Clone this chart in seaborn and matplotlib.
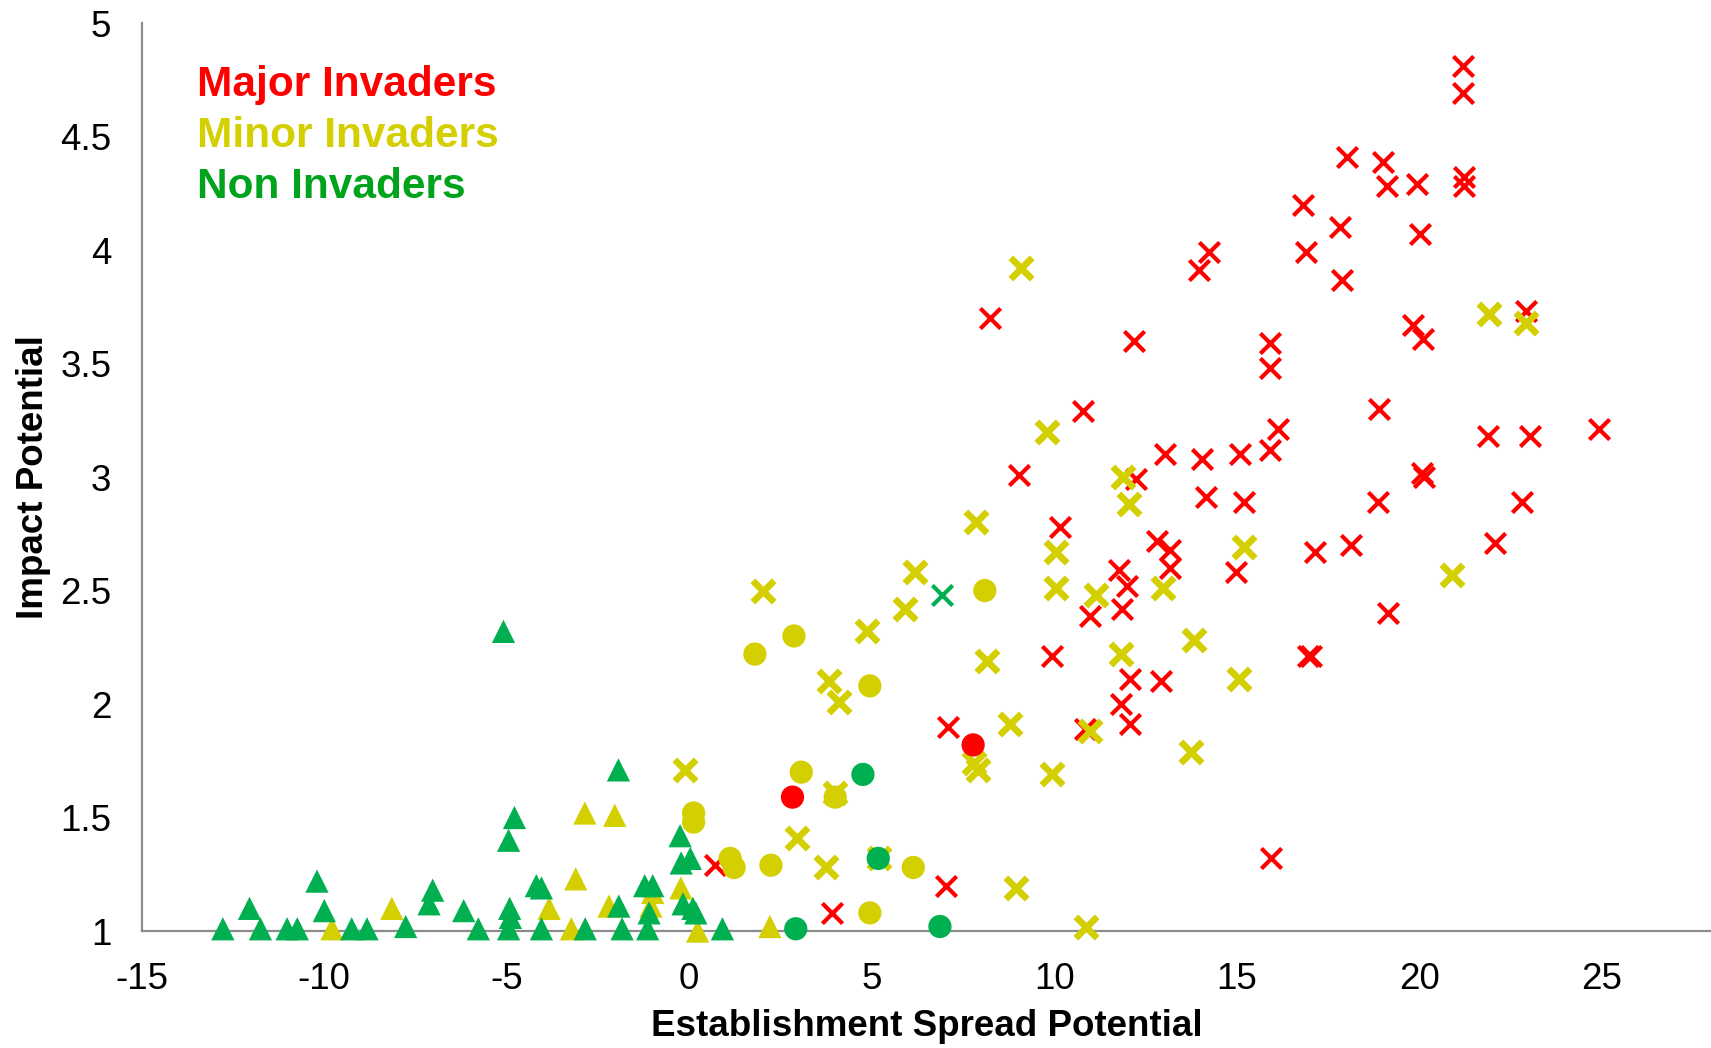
import numpy as np
import pandas as pd
import matplotlib
matplotlib.use("Agg")
import matplotlib.pyplot as plt
import seaborn as sns
from matplotlib.ticker import FuncFormatter

# ---- data: establishment/spread potential (x) vs impact potential (y) ----
major_cross_x = [21.20, 21.20, 18.02, 19.02, 19.12, 19.94, 21.22, 21.22, 16.83, 17.84,
                 16.91, 20.02, 14.24, 13.98, 17.90, 12.18, 19.84, 20.11, 22.94, 15.92,
                 15.92, 18.91, 16.14, 8.23, 10.79, 15.91, 21.89, 23.03, 24.93, 9.04,
                 12.25, 13.04, 14.04, 15.09, 14.16, 15.19, 18.87, 20.09, 20.14, 22.81,
                 22.08, 18.13, 17.15, 10.15, 12.83, 13.18, 13.18, 14.97, 11.78, 12.00,
                 10.97, 11.87, 19.16, 9.94, 16.95, 17.05, 12.09, 12.93, 11.84, 12.09,
                 10.84, 7.10, 15.93, 7.04, 3.90, 0.70]
major_cross_y = [4.81, 4.69, 4.41, 4.39, 4.28, 4.29, 4.32, 4.28, 4.20, 4.10,
                 3.99, 4.07, 3.99, 3.91, 3.87, 3.60, 3.67, 3.61, 3.73, 3.59,
                 3.48, 3.30, 3.21, 3.70, 3.29, 3.12, 3.18, 3.18, 3.21, 3.01,
                 2.99, 3.10, 3.08, 3.10, 2.91, 2.89, 2.89, 3.02, 3.00, 2.89,
                 2.71, 2.70, 2.67, 2.78, 2.72, 2.68, 2.60, 2.58, 2.59, 2.52,
                 2.39, 2.42, 2.40, 2.21, 2.21, 2.21, 2.11, 2.10, 2.00, 1.91,
                 1.89, 1.90, 1.32, 1.20, 1.08, 1.29]

minor_cross_x = [9.09, 21.91, 22.94, 9.80, 11.90, 12.05, 7.86, 10.04, 15.21, 20.90,
                 6.18, 10.06, 11.16, 12.99, 2.01, 5.90, 4.88, 13.82, 11.84, 8.17,
                 3.83, 4.11, 15.06, 8.80, 7.80, 7.90, 9.94, 10.97, 13.76, -0.11,
                 4.00, 2.95, 3.76, 5.20, 8.96, 10.86]
minor_cross_y = [3.92, 3.72, 3.68, 3.20, 3.00, 2.88, 2.80, 2.67, 2.69, 2.57,
                 2.58, 2.51, 2.48, 2.51, 2.50, 2.42, 2.32, 2.28, 2.22, 2.19,
                 2.10, 2.01, 2.11, 1.91, 1.74, 1.71, 1.69, 1.88, 1.79, 1.71,
                 1.61, 1.41, 1.28, 1.32, 1.19, 1.02]

non_cross_x = [6.94]
non_cross_y = [2.48]

minor_tri_x = [-9.79, -8.15, -3.84, -3.11, -2.86, -2.04, -3.23, -2.20, -1.05, -1.00,
               -0.23, 0.23, 2.21]
minor_tri_y = [1.01, 1.10, 1.10, 1.23, 1.52, 1.51, 1.01, 1.11, 1.11, 1.17,
               1.19, 1.00, 1.02]

non_tri_x = [-12.78, -12.05, -11.75, -11.02, -10.74, -10.20, -10.00, -9.25, -8.83, -7.77,
             -7.13, -7.03, -6.18, -5.78, -5.09, -4.79, -4.95, -4.92, -4.90, -4.95,
             -4.19, -4.05, -4.05, -2.85, -1.94, -1.93, -1.84, -1.22, -1.00, -1.10,
             -1.14, -0.25, -0.22, 0.03, -0.17, 0.10, 0.18, 0.91]
non_tri_y = [1.01, 1.10, 1.01, 1.01, 1.01, 1.22, 1.09, 1.01, 1.01, 1.02,
             1.12, 1.18, 1.09, 1.01, 2.32, 1.50, 1.40, 1.10, 1.06, 1.01,
             1.20, 1.19, 1.01, 1.01, 1.71, 1.11, 1.01, 1.20, 1.20, 1.08,
             1.01, 1.42, 1.30, 1.32, 1.12, 1.10, 1.08, 1.01]

minor_circ_x = [1.80, 2.87, 4.95, 8.10, 3.07, 4.00, 0.12, 0.12, 1.12, 1.23, 2.24, 6.14, 4.95]
minor_circ_y = [2.22, 2.30, 2.08, 2.50, 1.70, 1.59, 1.52, 1.48, 1.32, 1.28, 1.29, 1.28, 1.08]

major_circ_x = [2.83, 7.78]
major_circ_y = [1.59, 1.82]

non_circ_x = [4.76, 5.18, 2.92, 6.87]
non_circ_y = [1.69, 1.32, 1.01, 1.02]

status_labels = ["Major Invaders", "Minor Invaders", "Non Invaders"]
status_colors = {"Major Invaders": "#FF0000", "Minor Invaders": "#D4CF00", "Non Invaders": "#00B050"}
label_colors = {"Major Invaders": "#FF0000", "Minor Invaders": "#D4CF00", "Non Invaders": "#00A31C"}

x_ticks = [-15, -10, -5, 0, 5, 10, 15, 20, 25]
y_ticks = [1, 1.5, 2, 2.5, 3, 3.5, 4, 4.5, 5]

# ---- assemble a tidy table ----
groups = [
    ("Major Invaders", "x", major_cross_x, major_cross_y),
    ("Minor Invaders", "x", minor_cross_x, minor_cross_y),
    ("Non Invaders", "x", non_cross_x, non_cross_y),
    ("Minor Invaders", "^", minor_tri_x, minor_tri_y),
    ("Non Invaders", "^", non_tri_x, non_tri_y),
    ("Minor Invaders", "o", minor_circ_x, minor_circ_y),
    ("Major Invaders", "o", major_circ_x, major_circ_y),
    ("Non Invaders", "o", non_circ_x, non_circ_y),
]
frames = []
for order, (status, shape, xs, ys) in enumerate(groups):
    frames.append(pd.DataFrame({"esp": xs, "impact": ys, "status": status,
                                "shape": shape, "layer": order}))
df = pd.concat(frames, ignore_index=True)

# ---- figure ----
sns.set_theme(style="white")
plt.rcParams["font.family"] = ["Liberation Sans", "DejaVu Sans"]

fig = plt.figure(figsize=(17.11, 10.48), dpi=100)
ax = fig.add_axes([0.0829, 0.1116, 0.9171, 0.8664])

for order in range(len(groups)):
    sub = df[df["layer"] == order]
    status = sub["status"].iloc[0]
    shape = sub["shape"].iloc[0]
    color = status_colors[status]
    if shape == "x":
        thick = status == "Minor Invaders"
        sns.scatterplot(data=sub, x="esp", y="impact", ax=ax, marker="x",
                        color=color, s=235 if thick else 212,
                        linewidth=4.8 if thick else 3.0, clip_on=False,
                        legend=False, zorder=3 + order)
    else:
        sns.scatterplot(data=sub, x="esp", y="impact", ax=ax, marker=shape,
                        color=color, s=280, edgecolor="none", linewidth=0,
                        clip_on=False, legend=False, zorder=3 + order)

ax.set_xlim(-15, 28)
ax.set_ylim(1, 5)
ax.set_xticks(x_ticks)
ax.set_yticks(y_ticks)
ax.yaxis.set_major_formatter(FuncFormatter(lambda v, p: f"{v:g}"))
ax.xaxis.set_major_formatter(FuncFormatter(lambda v, p: f"{v:g}"))

for side in ["top", "right"]:
    ax.spines[side].set_visible(False)
for side in ["left", "bottom"]:
    ax.spines[side].set_color("#8C8C8C")
    ax.spines[side].set_linewidth(1.6)

ax.tick_params(axis="both", direction="out", length=7, width=1.4, color="#8C8C8C",
               labelsize=26.5, labelcolor="black")
ax.tick_params(axis="x", pad=15)
ax.tick_params(axis="y", pad=15)

ax.set_xlabel("Establishment Spread Potential", fontsize=26.5, fontweight="bold",
              color="black")
ax.set_ylabel("Impact Potential", fontsize=26.5, fontweight="bold", color="black")
ax.xaxis.set_label_coords(0.5, -0.1046)
ax.xaxis.label.set_verticalalignment("center")
ax.yaxis.set_label_coords(-0.0690, 0.5)
ax.yaxis.label.set_verticalalignment("center")

# coloured key text in the upper-left corner
key_baselines = [96, 147, 198]
for status, base in zip(status_labels, key_baselines):
    fig.text(197 / 1711, 1 - base / 1048, status, color=label_colors[status],
             fontsize=30.5, fontweight="bold", ha="left", va="baseline")

fig.savefig("out.png", dpi=100)
